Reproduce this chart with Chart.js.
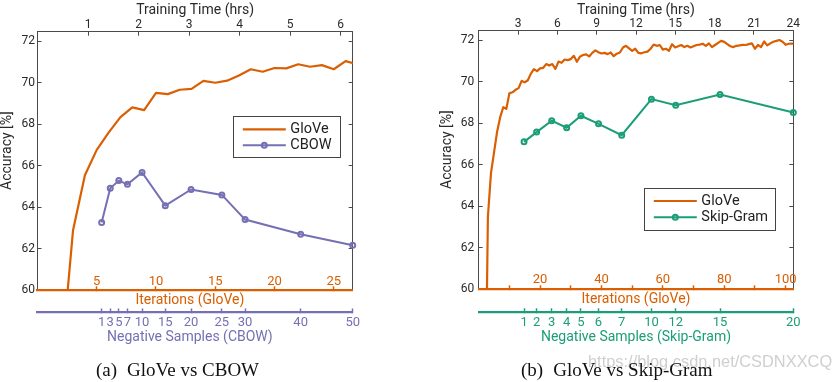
<!DOCTYPE html>
<html>
<head>
<meta charset="utf-8">
<script src="https://cdn.jsdelivr.net/npm/chart.js@4.4.1/dist/chart.umd.min.js"></script>
<style>
    body { margin: 0; background: #fff; }
    #wrap { position: relative; width: 840px; height: 382px; overflow: hidden; background: #fff; }
    canvas { position: absolute; top: 0; }
    .cap { position: absolute; top: 360px; font-family: "Liberation Serif", serif; font-size: 19px; line-height: 19px; color: #111; white-space: nowrap; }
    .cap span { margin-left: 10px; }
    .wm { position: absolute; left: 588px; top: 353px; font-family: "Liberation Sans", sans-serif; font-size: 16.4px; line-height: 16.4px; color: #cfcfcf; white-space: nowrap; }
</style>
</head>
<body>
<div id="wrap">
    <canvas id="chartA" width="420" height="382" style="left:0"></canvas>
    <canvas id="chartB" width="420" height="382" style="left:420px"></canvas>
    <div class="wm">https://blog.csdn.net/CSDNXXCQ</div>
    <div class="cap" style="left:96px">(a)<span>GloVe vs CBOW</span></div>
    <div class="cap" style="left:521px">(b)<span>GloVe vs Skip-Gram</span></div>
</div>
<script>
// ---- panel (a): GloVe vs CBOW ----
const gloveFirstIterA = 2;
const gloveAccA = [56.5, 62.9, 65.55, 66.77, 67.6, 68.35, 68.82, 68.69, 69.52, 69.46, 69.67, 69.71, 70.1,
    70.01, 70.11, 70.36, 70.66, 70.54, 70.72, 70.7, 70.9, 70.78, 70.86, 70.66, 71.05, 70.89];
const cbowNegSamples = [1, 3, 5, 7, 10, 15, 20, 25, 30, 40, 50];
const cbowHours = [1.27, 1.44, 1.61, 1.78, 2.07, 2.53, 3.04, 3.65, 4.11, 5.21, 6.24];
const cbowAcc = [63.27, 64.92, 65.29, 65.11, 65.68, 64.08, 64.86, 64.6, 63.41, 62.7, 62.17];

// ---- panel (b): GloVe vs Skip-Gram ----
const gloveFirstIterB = 2;
const gloveAccB = [52, 63.5, 65.6, 66.6, 67.6, 68.3, 68.78, 68.7, 69.45, 69.5, 69.62, 69.7, 70.05, 69.98,
    70.08, 70.4, 70.62, 70.52, 70.65, 70.68, 70.86, 70.79, 70.86, 70.63, 70.98, 70.92, 71.08, 71.05, 71.1,
    71.26, 70.97, 71.22, 71.3, 71.33, 71.23, 71.4, 71.52, 71.43, 71.37, 71.4, 71.34, 71.42, 71.24, 71.36,
    71.42, 71.66, 71.74, 71.62, 71.5, 71.6, 71.4, 71.38, 71.43, 71.46, 71.6, 71.8, 71.74, 71.78, 71.56,
    71.6, 71.5, 71.82, 71.66, 71.72, 71.78, 71.68, 71.74, 71.66, 71.72, 71.78, 71.8, 71.84, 71.74, 71.86,
    71.68, 71.78, 71.88, 71.98, 71.93, 71.82, 71.72, 71.68, 71.74, 71.76, 71.79, 71.78, 71.82, 71.86, 71.6,
    71.78, 71.68, 71.95, 71.76, 71.86, 71.94, 71.98, 72.02, 71.94, 71.79, 71.84, 71.85, 71.85];
const skipNegSamples = [1, 2, 3, 4, 5, 6, 7, 10, 12, 15, 20];
const skipHours = [3.46, 4.42, 5.57, 6.71, 7.8, 9.14, 10.91, 13.18, 15.03, 18.41, 24];
const skipAcc = [67.11, 67.58, 68.13, 67.79, 68.37, 67.98, 67.43, 69.17, 68.88, 69.39, 68.53];

const ORANGE = "#D95F02";
const PURPLE = "#7570B3";
const GREEN = "#1B9E77";
const INK = "#2a2a2a";
const SPINE = "#4a4a4a";

Chart.defaults.font.family = "Roboto, 'Liberation Sans', sans-serif";
Chart.defaults.color = INK;

// legend drawn inside the plot as a boxed key
const boxLegend = {
    id: "boxLegend",
    afterDatasetsDraw(chart, args, opts) {
        let ctx = chart.ctx;
        ctx.save();
        ctx.fillStyle = "#fff";
        ctx.fillRect(opts.x, opts.y, opts.w, opts.h);
        ctx.strokeStyle = "#444";
        ctx.lineWidth = 1;
        ctx.strokeRect(Math.round(opts.x) + 0.5, Math.round(opts.y) + 0.5, Math.round(opts.w), Math.round(opts.h));
        ctx.font = "14.5px Roboto";
        ctx.textBaseline = "middle";
        chart.data.datasets.forEach(function (ds, i) {
            let y = opts.y + opts.rowTop + i * opts.rowGap;
            let x0 = opts.x + 9.5;
            let x1 = x0 + 43;
            ctx.strokeStyle = ds.borderColor;
            ctx.lineWidth = ds.borderWidth;
            ctx.beginPath();
            ctx.moveTo(x0, y);
            ctx.lineTo(x1, y);
            ctx.stroke();
            if (ds.pointRadius > 0) {
                ctx.lineWidth = ds.pointBorderWidth;
                ctx.beginPath();
                ctx.arc((x0 + x1) / 2, y, ds.pointRadius, 0, Math.PI * 2);
                ctx.stroke();
            }
            ctx.fillStyle = "#222";
            ctx.fillText(ds.label, opts.x + 57, y);
        });
        ctx.restore();
    }
};

// iteration numbers sit just above the bottom axis line, inside the plot
const innerIterLabels = {
    id: "innerIterLabels",
    afterDatasetsDraw(chart, args, opts) {
        let s = chart.scales.xIter;
        let ctx = chart.ctx;
        ctx.save();
        ctx.font = "13px Roboto";
        ctx.fillStyle = ORANGE;
        ctx.textAlign = "center";
        ctx.textBaseline = "middle";
        s.ticks.forEach(function (t) {
            if (t.label !== "" && t.label !== undefined) {
                ctx.fillText(t.label, s.getPixelForValue(t.value), chart.chartArea.bottom - opts.lift);
            }
        });
        ctx.restore();
    }
};

function innerTicks(color, width) {
    return {
        display: true,
        drawOnChartArea: false,
        drawTicks: true,
        tickLength: -4,
        color: color,
        tickColor: color,
        tickWidth: width
    };
}

function evenTicks(scale) {
    scale.ticks = scale.ticks.filter(t => t.value % 2 === 0);
}

function makePanel(id, p) {
    let glove = p.gloveAcc.map((v, i) => ({x: p.gloveFirstIter + i, y: v}));
    let neg = p.negHours.map((h, i) => ({x: h, y: p.negAcc[i]}));

    return new Chart(document.getElementById(id), {
        type: "line",
        data: {
            datasets: [
                {
                    label: "GloVe",
                    data: glove,
                    xAxisID: "xIter",
                    yAxisID: "y",
                    borderColor: ORANGE,
                    borderWidth: 2.2,
                    borderJoinStyle: "round",
                    pointRadius: 0
                },
                {
                    label: p.name,
                    data: neg,
                    xAxisID: "xTime",
                    yAxisID: "y",
                    borderColor: p.color,
                    borderWidth: 2,
                    pointRadius: 2.5,
                    pointBorderWidth: 2,
                    pointBorderColor: p.color,
                    pointBackgroundColor: "rgba(255,255,255,0)",
                    clip: false
                }
            ]
        },
        options: {
            responsive: false,
            animation: false,
            devicePixelRatio: 1,
            events: [],
            layout: {
                padding: {left: 0, top: 0, right: p.padRight, bottom: 36.3}
            },
            plugins: {
                legend: {display: false},
                tooltip: {enabled: false},
                boxLegend: p.legend,
                innerIterLabels: {lift: p.iterLift}
            },
            scales: {
                y: {
                    type: "linear",
                    position: "left",
                    min: 60,
                    max: 72.47,
                    ticks: {stepSize: 2, includeBounds: false, padding: p.yPad, font: {size: 12}, color: INK},
                    afterBuildTicks: evenTicks,
                    grid: innerTicks(SPINE, 1),
                    border: {display: true, color: SPINE, width: 1},
                    title: {display: true, text: "      Accuracy [%]", font: {size: 14}, color: INK, padding: {top: p.yTitlePad, bottom: 0}},
                    afterFit: s => { s.width = p.left; }
                },
                yRight: {
                    type: "linear",
                    position: "right",
                    min: 60,
                    max: 72.47,
                    ticks: {stepSize: 2, includeBounds: false, display: false},
                    afterBuildTicks: evenTicks,
                    grid: innerTicks(SPINE, 1),
                    border: {display: true, color: SPINE, width: 1},
                    afterFit: s => { s.width = 0; }
                },
                xTime: {
                    type: "linear",
                    position: "top",
                    min: 0,
                    max: p.hoursMax,
                    ticks: {stepSize: p.hourStep, includeBounds: false, padding: p.topPad, font: {size: 12}, color: INK, maxRotation: 0, autoSkip: false},
                    afterBuildTicks: s => {
                        s.ticks = s.ticks.filter(t => t.value > 0 && t.value % p.hourStep === 0);
                    },
                    grid: innerTicks(SPINE, 1),
                    border: {display: true, color: SPINE, width: 1},
                    title: {display: true, text: "Training Time (hrs)", font: {size: 14}, color: INK, padding: {top: 2.3, bottom: 0}},
                    afterFit: s => { s.height = p.top; }
                },
                xIter: {
                    type: "linear",
                    position: "bottom",
                    weight: 0,
                    min: 0,
                    max: p.iterMax,
                    ticks: {
                        stepSize: p.iterStep,
                        includeBounds: false,
                        font: {size: 13},
                        color: "rgba(0,0,0,0)",
                        maxRotation: 0,
                        autoSkip: false,
                        callback: v => (v % p.iterLabelStep === 0 ? String(v) : "")
                    },
                    afterBuildTicks: s => {
                        s.ticks = s.ticks.filter(t => t.value > 0 && t.value % p.iterStep === 0);
                    },
                    grid: innerTicks(ORANGE, 1.5),
                    border: {display: true, color: ORANGE, width: 2.2},
                    title: {display: true, text: "Iterations (GloVe)" + p.titleTail, font: {size: 14}, color: ORANGE, padding: {top: 0, bottom: p.iterTitlePad}},
                    afterFit: s => { s.height = p.iterHeight; }
                },
                xNeg: {
                    type: "linear",
                    position: "bottom",
                    weight: 1,
                    min: 0,
                    max: p.hoursMax,
                    ticks: {
                        padding: p.negPad,
                        font: {size: 13},
                        color: p.color,
                        maxRotation: 0,
                        autoSkip: false,
                        callback: (v, i) => p.negLabels[i]
                    },
                    afterBuildTicks: s => {
                        s.ticks = p.negHours.map(h => ({value: h}));
                    },
                    grid: innerTicks(p.color, 1.5),
                    border: {display: true, color: p.color, width: 2.2},
                    title: {display: true, text: p.negTitle + p.titleTail, font: {size: 14}, color: p.color, padding: {top: 0, bottom: 0}},
                    afterFit: s => { s.height = p.negHeight; }
                }
            }
        },
        plugins: [boxLegend, innerIterLabels]
    });
}

makePanel("chartA", {
    name: "CBOW",
    color: PURPLE,
    gloveFirstIter: gloveFirstIterA,
    gloveAcc: gloveAccA,
    negHours: cbowHours,
    negAcc: cbowAcc,
    negLabels: cbowNegSamples,
    negTitle: "Negative Samples (CBOW)",
    titleTail: "   ",
    left: 37.5,
    top: 31.7,
    padRight: 67.3,
    yPad: 6.5,
    yTitlePad: -1.2,
    topPad: 3.5,
    hoursMax: 6.24,
    hourStep: 1,
    iterMax: 26.6,
    iterStep: 5,
    iterLabelStep: 5,
    iterLift: 8.6,
    iterTitlePad: 4.1,
    iterHeight: 22.2,
    negPad: 6.4,
    negHeight: 33.2,
    legend: {x: 233.3, y: 116, w: 107.4, h: 41.3, rowTop: 13.3, rowGap: 16}
});

makePanel("chartB", {
    name: "Skip-Gram",
    color: GREEN,
    gloveFirstIter: gloveFirstIterB,
    gloveAcc: gloveAccB,
    negHours: skipHours,
    negAcc: skipAcc,
    negLabels: skipNegSamples,
    negTitle: "Negative Samples (Skip-Gram)",
    titleTail: "",
    left: 58.7,
    top: 30.7,
    padRight: 46.7,
    yPad: 8.5,
    yTitlePad: 19.1,
    topPad: 3.2,
    hoursMax: 24,
    hourStep: 3,
    iterMax: 102.5,
    iterStep: 10,
    iterLabelStep: 20,
    iterLift: 9.3,
    iterTitlePad: 4.9,
    iterHeight: 23,
    negPad: 6.2,
    negHeight: 33.4,
    legend: {x: 224.3, y: 188.3, w: 130.7, h: 41.7, rowTop: 12.7, rowGap: 16.3}
});
</script>
</body>
</html>
